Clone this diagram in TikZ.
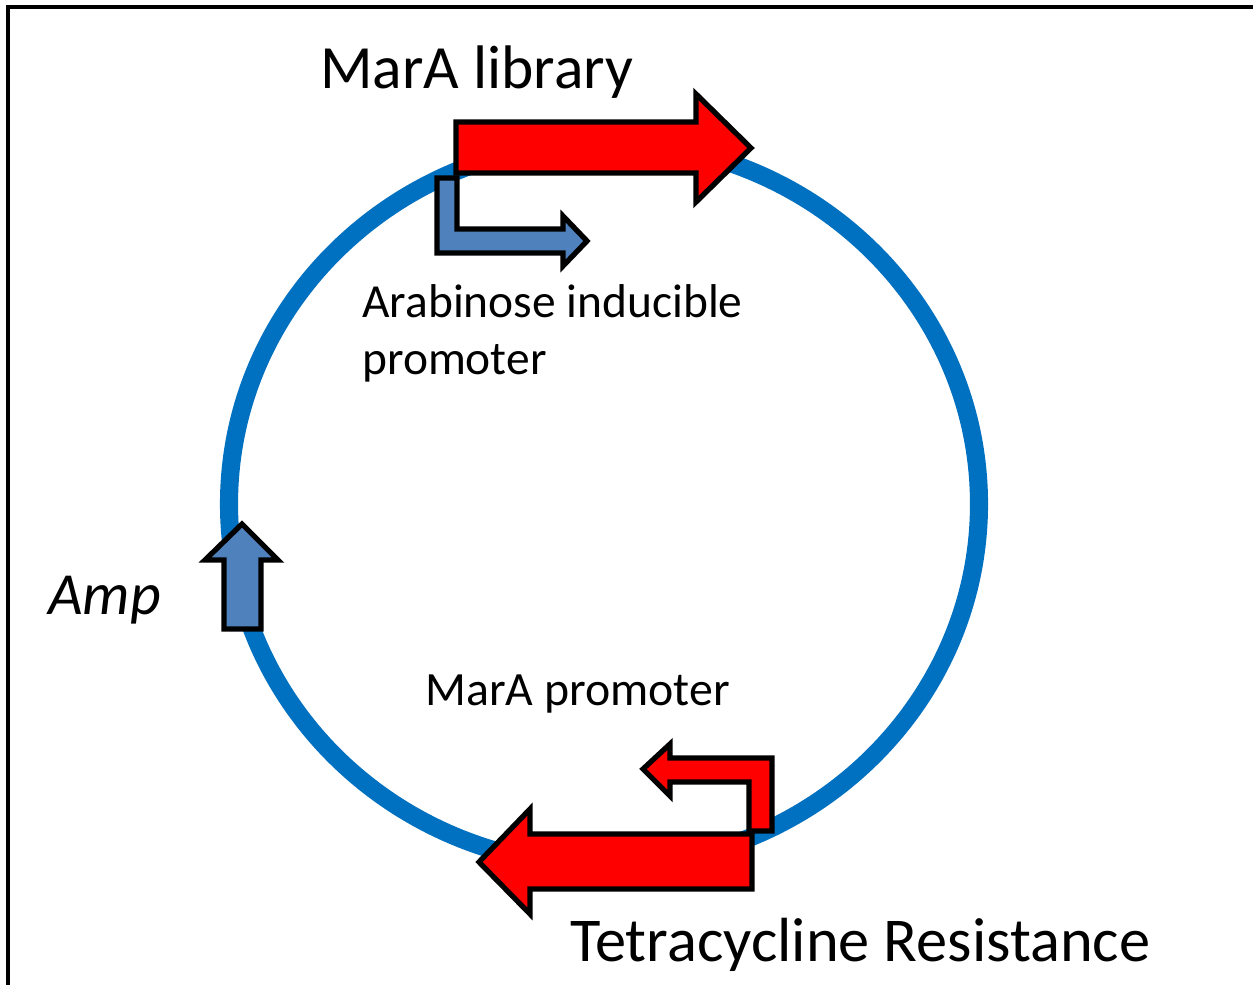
\documentclass[tikz,border=0pt]{standalone}
\usepackage{fontspec}
\setmainfont{Carlito}
\begin{document}
\begin{tikzpicture}[x=0.02cm,y=-0.02cm,
  plasmid/.style={draw=plasblue,line width=10.3pt},
  redshape/.style={draw=black,fill=red,line width=3pt,line join=miter},
  blueshape/.style={draw=black,fill=genblue,line width=3pt,line join=miter},
  lbl/.style={anchor=base west,inner sep=0pt,text=black}]
\definecolor{plasblue}{HTML}{0070C0}
\definecolor{genblue}{HTML}{4F81BD}
\useasboundingbox (0,0) rectangle (1253,984);
\clip (0,0) rectangle (1253,984);
\draw[line width=1.8pt] (8,1000) -- (8,7) -- (1260,7);
% plasmid backbone
\draw[plasmid] (604,504) ellipse [x radius=375, y radius=362];
% MarA library arrow
\draw[redshape] (456,122) -- (696,122) -- (696,94) -- (751,148) -- (696,202) -- (696,173) -- (456,173) -- cycle;
% Arabinose inducible promoter
\draw[blueshape] (437,178) -- (457,178) -- (457,229) -- (563,229) -- (563,216) -- (587,241) -- (563,266) -- (563,253) -- (437,253) -- cycle;
% Amp
\draw[blueshape] (224,629) -- (224,560) -- (205,560) -- (242,524) -- (278,560) -- (261,560) -- (261,629) -- cycle;
% Tetracycline resistance arrow
\draw[redshape] (752,834) -- (530,834) -- (530,809) -- (479,862) -- (530,914) -- (530,889) -- (752,889) -- cycle;
% MarA promoter
\draw[redshape] (772,831) -- (749,831) -- (749,782) -- (670,782) -- (670,796) -- (643,769) -- (670,744) -- (670,758) -- (772,758) -- cycle;
% labels
\node[lbl,font=\fontsize{35}{40}\selectfont] (lib) at (320,88) {MarA library};
\node[lbl,font=\fontsize{27}{32}\selectfont] (ara1) at (362,317) {Arabinose inducible};
\node[lbl,font=\fontsize{27}{32}\selectfont] (ara2) at (362,374) {promoter};
\node[lbl,font=\fontsize{34}{38}\selectfont\itshape] (amp) at (48,614) {Amp};
\node[lbl,font=\fontsize{27.2}{32}\selectfont] (marp) at (425,705) {MarA promoter};
\node[lbl,font=\fontsize{35.5}{40}\selectfont] (tet) at (570,961) {Tetracycline Resistance};
\end{tikzpicture}
\end{document}
